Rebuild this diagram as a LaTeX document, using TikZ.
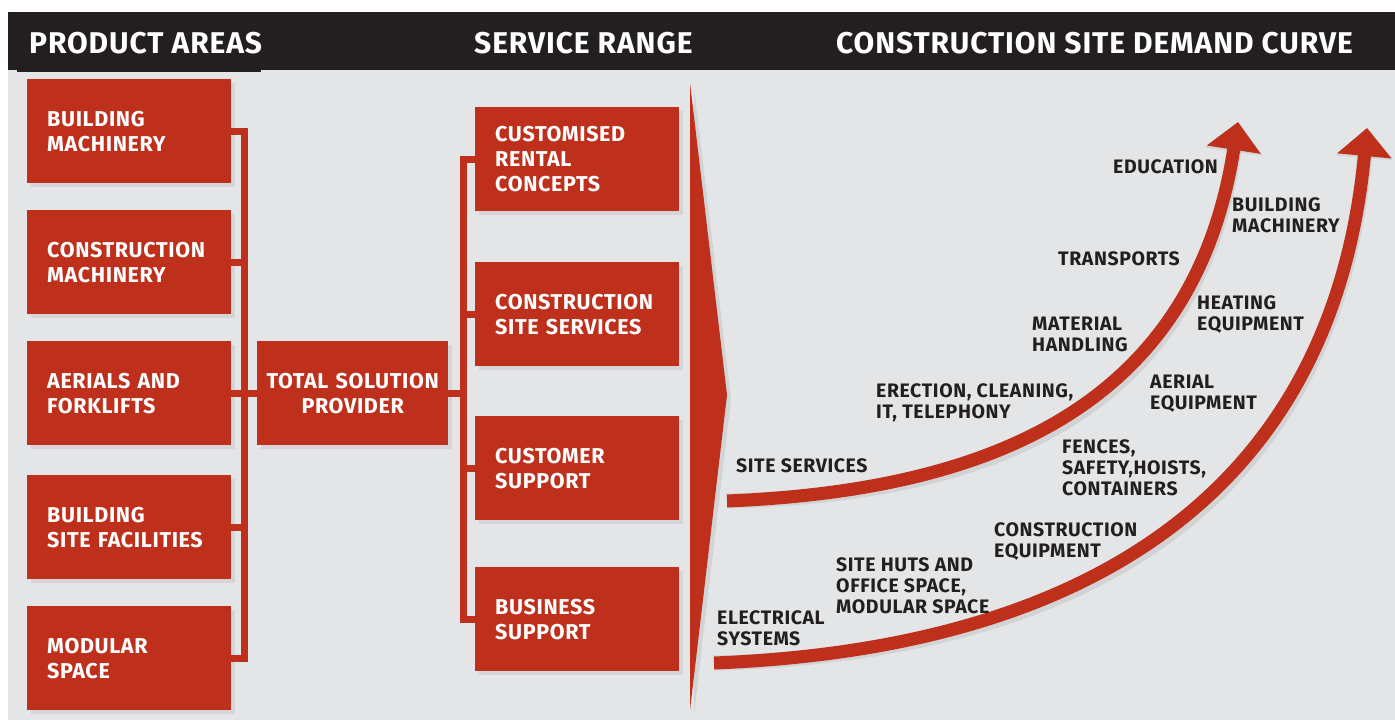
\documentclass[tikz,border=0pt]{standalone}
\usepackage{fontspec}
\setmainfont{Fira Sans}[LetterSpace=3]
\usetikzlibrary{arrows.meta, shadows}
\definecolor{brickred}{RGB}{190,48,28}
\definecolor{inkblack}{RGB}{35,31,32}
\definecolor{sitegray}{RGB}{228,229,231}

\begin{document}
\begin{tikzpicture}[x=1pt, y=-1pt]
    \tikzstyle{box}=[fill=brickred, text=white, font=\bfseries\fontsize{21.5}{25}\selectfont, inner xsep=20pt, inner ysep=0pt, text width=164pt, minimum height=104pt, align=left, anchor=north west, drop shadow={opacity=0.15, shadow xshift=4pt, shadow yshift=-4pt}]
    \tikzstyle{head}=[text=white, font=\bfseries\fontsize{30}{30}\selectfont, anchor=base west, inner sep=0pt]
    \tikzstyle{tag}=[text=inkblack, font=\bfseries\fontsize{19.5}{21}\selectfont, anchor=north west, inner sep=0pt, align=left]
    \tikzstyle{link}=[draw=brickred, line width=7pt]
    \tikzstyle{curve}=[draw=brickred, line width=13pt, -{Triangle[length=28pt, width=53pt]}]
    \tikzstyle{curve shadow}=[draw=black, opacity=0.08, line width=15pt, -{Triangle[length=30pt, width=56pt]}]

    % Page, background and title bar
    \useasboundingbox (0,0) rectangle (1395,720);
    \fill[white] (0,0) rectangle (1395,720);
    \fill[sitegray] (8,70) rectangle (1395,720);
    \fill[inkblack] (8,12) rectangle (1395,70);
    \fill[inkblack] (17,69) rectangle (261,72);

    % Column headings
    \node[head] (h-areas) at (29,53) {PRODUCT AREAS};
    \node[head] (h-range) at (474,53) {SERVICE RANGE};
    \node[head] (h-curve) at (836,53) {CONSTRUCTION SITE DEMAND CURVE};

    % Product areas
    \node[box] (pa1) at (27,79) {BUILDING\\MACHINERY};
    \node[box] (pa2) at (27,210) {CONSTRUCTION\\MACHINERY};
    \node[box] (pa3) at (27,341) {AERIALS AND\\FORKLIFTS};
    \node[box] (pa4) at (27,475) {BUILDING\\SITE FACILITIES};
    \node[box] (pa5) at (27,606) {MODULAR\\SPACE};

    % Total solution provider
    \node[box, inner xsep=4pt, text width=183pt, align=center] (tsp) at (257,341) {TOTAL SOLUTION\\PROVIDER};

    % Service range
    \node[box] (sr1) at (475,107) {CUSTOMISED\\RENTAL\\CONCEPTS};
    \node[box] (sr2) at (475,262) {CONSTRUCTION\\SITE SERVICES};
    \node[box] (sr3) at (475,416) {CUSTOMER\\SUPPORT};
    \node[box] (sr4) at (475,567) {BUSINESS\\SUPPORT};

    % Brackets
    \coordinate (lbus) at (244,0);
    \coordinate (rbus) at (463,0);
    \draw[link] (pa1.east) -| (lbus |- pa5.east) -- (pa5.east);
    \foreach \i in {2,3,4}
        \draw[link] (pa\i.east) -- (lbus |- pa\i.east);
    \draw[link] (lbus |- tsp.west) -- (tsp.west);
    \draw[link] (sr1.west) -| (rbus |- sr4.west) -- (sr4.west);
    \foreach \i in {2,3}
        \draw[link] (sr\i.west) -- (rbus |- sr\i.west);
    \draw[link] (tsp.east) -- (rbus |- tsp.east);

    % Big arrow into the demand curve
    \coordinate (fanTop) at (690,83);
    \coordinate (fanTip) at (727,395);
    \coordinate (fanBot) at (690,710);
    \fill[black, opacity=0.08] ([shift={(4,4)}]fanTop) -- ([shift={(4,4)}]fanTip) -- ([shift={(4,4)}]fanBot) -- cycle;
    \fill[brickred] (fanTop) -- (fanTip) -- (fanBot) -- cycle;

    % Demand curves
    \coordinate (siteStart) at (727,501);
    \coordinate (siteTip) at (1238,122);
    \coordinate (elecStart) at (714,663);
    \coordinate (elecTip) at (1367,128);
    \begin{scope}[shift={(3,5)}]
        \draw[curve shadow] (siteStart) .. controls (1000,490) and (1195,400) .. (siteTip);
        \draw[curve shadow] (elecStart) .. controls (1050,650) and (1330,520) .. (elecTip);
    \end{scope}
    \draw[curve] (siteStart) .. controls (1000,490) and (1195,400) .. (siteTip);
    \draw[curve] (elecStart) .. controls (1050,650) and (1330,520) .. (elecTip);

    % Demand labels
    \node[tag] (t-edu) at (1113,159) {EDUCATION};
    \node[tag] (t-bm) at (1232,197) {BUILDING\\MACHINERY};
    \node[tag] (t-trans) at (1058,251) {TRANSPORTS};
    \node[tag] (t-heat) at (1197,295) {HEATING\\EQUIPMENT};
    \node[tag] (t-mat) at (1032,317) {MATERIAL\\HANDLING};
    \node[tag] (t-aer) at (1150,375) {AERIAL\\EQUIPMENT};
    \node[tag] (t-erec) at (876,383) {ERECTION, CLEANING,\\IT, TELEPHONY};
    \node[tag] (t-fence) at (1062,439) {FENCES,\\SAFETY,HOISTS,\\CONTAINERS};
    \node[tag] (t-cons) at (994,522) {CONSTRUCTION\\EQUIPMENT};
    \node[tag] (t-site) at (736,458) {SITE SERVICES};
    \node[tag] (t-huts) at (836,557) {SITE HUTS AND\\OFFICE SPACE,\\MODULAR SPACE};
    \node[tag] (t-elec) at (717,610) {ELECTRICAL\\SYSTEMS};
\end{tikzpicture}
\end{document}
